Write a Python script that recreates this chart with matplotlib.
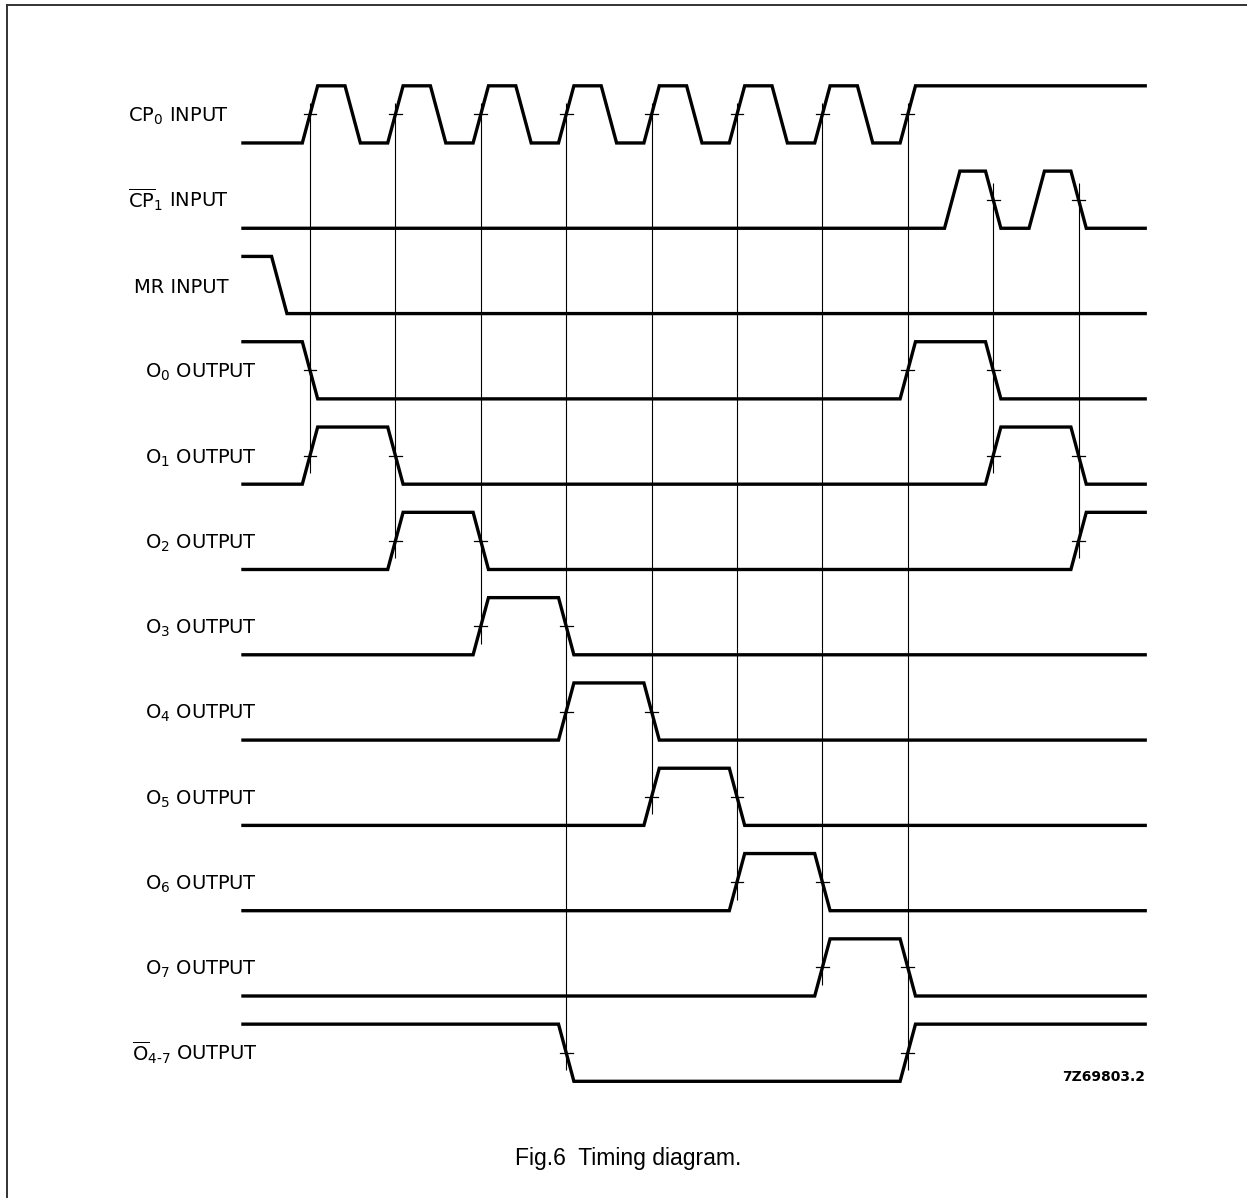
import numpy as np
import matplotlib.pyplot as plt
from matplotlib.lines import Line2D

plt.rcParams['font.family'] = ['DejaVu Sans']
plt.rcParams['mathtext.default'] = 'regular'

# signal names (top to bottom)
labels = [r'CP$_0$ INPUT', r'$\overline{CP}_1$ INPUT', 'MR INPUT',
          r'O$_0$ OUTPUT', r'O$_1$ OUTPUT', r'O$_2$ OUTPUT', r'O$_3$ OUTPUT',
          r'O$_4$ OUTPUT', r'O$_5$ OUTPUT', r'O$_6$ OUTPUT', r'O$_7$ OUTPUT',
          r'$\overline{O}_{4\text{-}7}$ OUTPUT']

# starting level of each signal (0 = low, 1 = high)
init_levels = [0, 0, 1, 1, 0, 0, 0, 0, 0, 0, 0, 1]

# edge times in clock periods (0 = first CP0 rising edge)
edges = [
    [0, 0.5, 1, 1.5, 2, 2.5, 3, 3.5, 4, 4.5, 5, 5.5, 6, 6.5, 7],
    [7.52, 8, 8.51, 9],
    [-0.36],
    [0, 7, 8],
    [0, 1, 8, 9],
    [1, 2, 9],
    [2, 3],
    [3, 4],
    [4, 5],
    [5, 6],
    [6, 7],
    [3, 7],
]

# edges marked with a crossing tick
ticked = [
    [0, 1, 2, 3, 4, 5, 6, 7],
    [8, 9],
    [],
    [0, 7, 8],
    [0, 1, 8, 9],
    [1, 2, 9],
    [2, 3],
    [3, 4],
    [4, 5],
    [5, 6],
    [6, 7],
    [3, 7],
]

# reference lines: time, first row, last row
ref_times = [0, 1, 2, 3, 4, 5, 6, 7, 8, 9]
ref_top = [0, 0, 0, 0, 0, 0, 0, 0, 1, 1]
ref_bottom = [4, 5, 6, 11, 8, 9, 10, 11, 4, 5]

t_start, t_end = -0.785, 9.78
HIGH = 0.67
EDGE = 0.18

fig = plt.figure(figsize=(12.47, 11.98), dpi=100)
ax = fig.add_axes([0, 0, 1, 1])
ax.set_xlim(-3.630, 10.972)
ax.set_ylim(12.368, -1.676)
ax.axis('off')


def level_y(row, lev):
    return row - HIGH * lev


for row, (lab, lev0, ed) in enumerate(zip(labels, init_levels, edges)):
    xs = [t_start]
    ys = [level_y(row, lev0)]
    lev = lev0
    for e in ed:
        xs += [e - EDGE / 2, e + EDGE / 2]
        ys += [level_y(row, lev), level_y(row, 1 - lev)]
        lev = 1 - lev
    xs.append(t_end)
    ys.append(level_y(row, lev))
    ax.plot(xs, ys, color='black', lw=2.4, solid_joinstyle='miter')

    mid = row - HIGH / 2
    for e in ticked[row]:
        ax.plot([e - 0.075, e + 0.075], [mid, mid], color='black', lw=0.9)

    lx = -0.948 if 'INPUT' in lab else -0.62
    ax.text(lx, mid + 0.09, lab, ha='right', va='baseline', fontsize=14)

tops = [r - HIGH / 2 - (0.13 if r == 0 else 0.2) for r in ref_top]
bots = [r - 0.13 for r in ref_bottom]
ax.vlines(ref_times, tops, bots, color='black', lw=0.8)

ax.text(t_end, 11, '7Z69803.2', ha='right', va='baseline',
        fontsize=10, fontweight='bold')

# frame (left and top edges)
fig.add_artist(Line2D([7 / 1247, 7 / 1247], [0, 1 - 5 / 1198],
                      color='#333333', lw=1.4))
fig.add_artist(Line2D([7 / 1247, 1], [1 - 5 / 1198, 1 - 5 / 1198],
                      color='#333333', lw=1.4))

fig.text(628 / 1247, 1 - 1158 / 1198, 'Fig.6  Timing diagram.',
         ha='center', va='center', family='Liberation Sans', fontsize=16.5)

plt.savefig('out.png', dpi=100)
